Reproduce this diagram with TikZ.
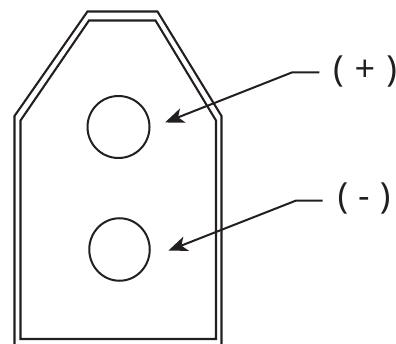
\documentclass[tikz,border=0pt]{standalone}
\usepackage{fontspec}
\setmainfont{Open Sans}
\usetikzlibrary{arrows.meta,shapes.geometric}
\definecolor{ink}{HTML}{231F20}
\tikzset{
  wall/.style={draw=ink,line width=2.1pt,line join=miter},
  hole/.style={draw=ink,line width=2pt,ellipse,inner sep=0pt},
  leader/.style={draw=ink,line width=2pt,-{Stealth[length=19pt,width=15pt,inset=5pt]}},
  polarity/.style={text=ink,inner sep=0pt}
}
\begin{document}
\begin{tikzpicture}[x=1pt,y=-1pt]
\useasboundingbox (0,0) rectangle (396,344);
\draw[wall] (14.5,346) -- (14.5,116) -- (87.5,11.5) -- (157.5,11.5) -- (221.5,116) -- (221.5,346);
\draw[wall] (20.5,339) -- (20.5,120.5) -- (89,20.5) -- (155.5,20.5) -- (216,120.5) -- (216,339) -- cycle;
\node[hole,minimum width=62pt,minimum height=62pt] (holeplus) at (118.5,127) {};
\node[hole,minimum width=60.5pt,minimum height=62.5pt] (holeminus) at (119.5,249.5) {};
\node[polarity] (plus) at (365,72) {\fontsize{36}{40}\selectfont(\hspace{11pt}+\hspace{11pt})};
\node[polarity] (minus) at (364,198.5) {\fontsize{36}{40}\selectfont(\hspace{10pt}-\hspace{10pt})};
\coordinate (plusend) at (319.3,72.3);
\coordinate (plusbend) at (292.3,72.3);
\coordinate (plustip) at (165,122.5);
\coordinate (minusend) at (322.7,200.7);
\coordinate (minusbend) at (295.7,200.7);
\coordinate (minustip) at (168.3,250.7);
\draw[leader] (plusend) -- (plusbend) -- (plustip);
\draw[leader] (minusend) -- (minusbend) -- (minustip);
\end{tikzpicture}
\end{document}
